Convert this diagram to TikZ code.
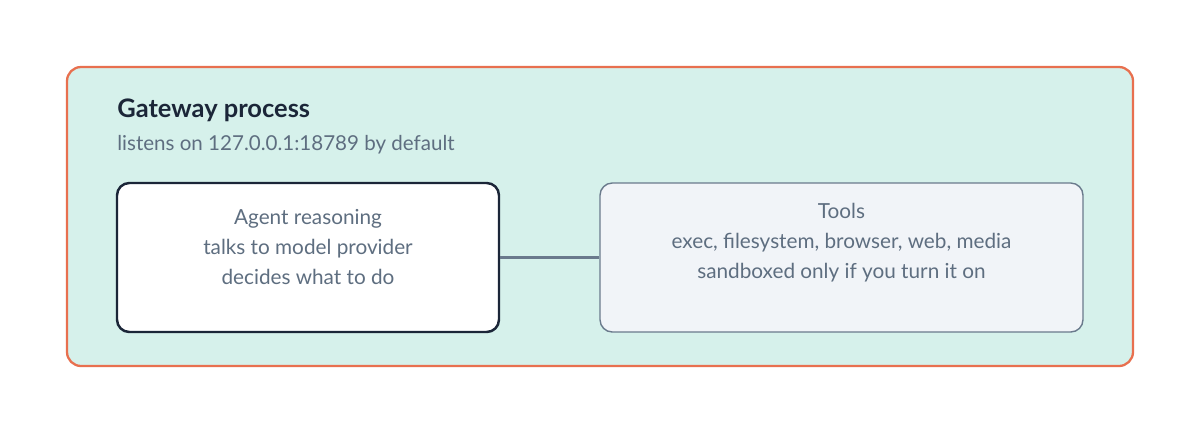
\documentclass[tikz,border=0pt]{standalone}
\usepackage{fontspec}
\setmainfont{Lato}
\usetikzlibrary{positioning}
\definecolor{mint}{HTML}{D6F1EB}
\definecolor{edgeorange}{HTML}{E8704F}
\definecolor{navy}{HTML}{1B2638}
\definecolor{slate}{HTML}{5E6E80}
\definecolor{toolfill}{HTML}{F1F4F8}
\definecolor{toolline}{HTML}{6A7A8C}
\begin{document}
\begin{tikzpicture}[x=0.02cm, y=-0.02cm,
    box/.style={rounded corners=7pt, minimum width=382*0.02cm, minimum height=149*0.02cm},
    agent/.style={box, draw=navy, line width=1.4pt, fill=white},
    tools/.style={box, draw=toolline, line width=0.8pt, fill=toolfill, minimum width=483*0.02cm},
    boxtext/.style={align=center, font=\fontsize{11.8}{17}\selectfont, text=slate}]
        \useasboundingbox (0,0) rectangle (1200,434);

% outer gateway frame
        \draw[edgeorange, fill=mint, line width=1.3pt, rounded corners=8pt] (67,67) rectangle (1133,366);
        \node[anchor=west, font=\bfseries\fontsize{14.5}{17}\selectfont, text=navy, inner sep=0] (title) at (117,110) {Gateway process};
        \node[anchor=west, font=\fontsize{11.7}{14}\selectfont, text=slate, inner sep=0] (sub) at (117,145) {listens on 127.0.0.1:18789 by default};

        \node[agent] (agent) at (308,257.5) {};
        \node[boxtext] (agentText) at (308,247) {Agent reasoning\\talks to model provider\\decides what to do};
        \node[tools] (tools) at (841.5,257.5) {};
        \node[boxtext] (toolsText) at (841.5,243) {Tools\\exec, filesystem, browser, web, media\\sandboxed only if you turn it on};

        \draw[toolline, line width=1.2pt] (agent) -- (tools);
    \end{tikzpicture}
\end{document}
